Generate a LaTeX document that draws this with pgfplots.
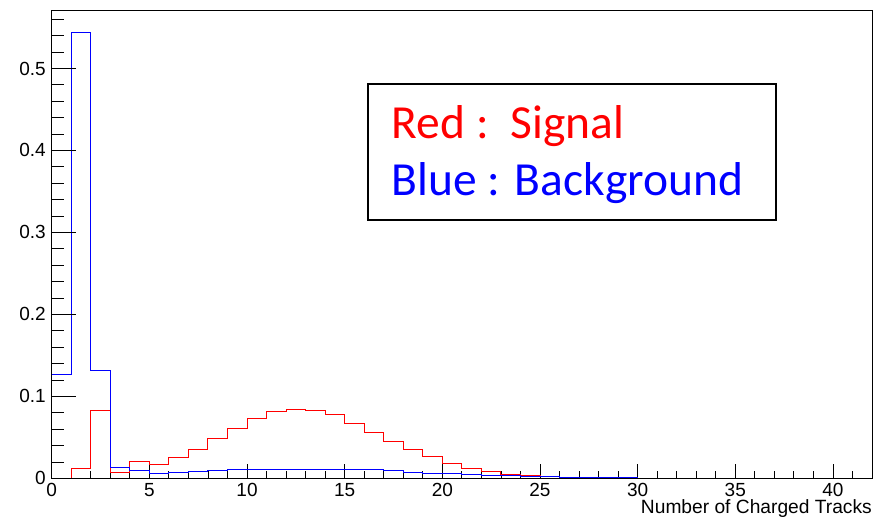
\documentclass[border=0pt]{standalone}
\usepackage{pgfplots}
\pgfplotsset{compat=1.18}
\usepackage{fontspec}
\setmainfont{Liberation Sans}
\newfontfamily\calibri{Carlito}
\definecolor{rootred}{RGB}{255,0,0}
\definecolor{rootblue}{RGB}{0,0,255}
\begin{document}
\begin{tikzpicture}
\useasboundingbox (0pt,0pt) rectangle (879pt,521pt);
\pgfplotsset{common/.style={
  scale only axis, width=820.3pt, height=468pt,
  at={(51.7pt,42.7pt)}, anchor=south west,
  xmin=0, xmax=42, ymin=0, ymax=0.571,
  axis line style={line width=0.9pt, black},
  tick pos=left, tick align=inside,
  tick style={line width=0.8pt, black},
  /pgf/number format/assume math mode=true,
  ticklabel style={font=\fontsize{19}{19}\selectfont},
}}
\begin{axis}[common,
  xtick={0,5,...,45}, minor x tick num=4, ytick=\empty,
  major tick length=14pt, minor tick length=7pt,
  xticklabel style={anchor=north, inner sep=0pt, yshift=-5pt},
  xlabel={Number of Charged Tracks},
  xlabel style={at={(rel axis cs:1,0)}, anchor=base east, inner sep=0pt,
    xshift=0pt, yshift=-35.5pt, font=\fontsize{19.2}{19.2}\selectfont},
]
\addplot[const plot, rootred, line width=0.9pt] coordinates {
(0,0)(1,0.0122)(2,0.0824)(3,0.0073)(4,0.0207)(5,0.0166)(6,0.0256)(7,0.0349)
(8,0.0488)(9,0.0610)(10,0.0732)(11,0.0812)(12,0.0841)(13,0.0833)(14,0.0776)
(15,0.0675)(16,0.0565)(17,0.0455)(18,0.0346)(19,0.0272)(20,0.0183)(21,0.0122)
(22,0.0085)(23,0.0049)(24,0.0037)(25,0.0024)(26,0.0010)(27,0.0009)(28,0.0008)
(29,0.0007)(30,0.0002)(31,0.0001)(32,0.0001)(33,0)(34,0)(35,0)(36,0)(37,0)
(38,0)(39,0)(40,0)(41,0)(42,0)};
\addplot[const plot, rootblue, line width=0.9pt] coordinates {
(0,0.1263)(1,0.5435)(2,0.1317)(3,0.0134)(4,0.0098)(5,0.0065)(6,0.0077)(7,0.0085)
(8,0.0093)(9,0.0102)(10,0.0102)(11,0.0110)(12,0.0110)(13,0.0110)(14,0.0110)
(15,0.0102)(16,0.0102)(17,0.0093)(18,0.0077)(19,0.0061)(20,0.0053)(21,0.0041)
(22,0.0037)(23,0.0033)(24,0.0028)(25,0.0020)(26,0.0012)(27,0.0012)(28,0.0010)
(29,0.0005)(30,0.0002)(31,0.0002)(32,0.0002)(33,0.0002)(34,0.0002)(35,0.0002)
(36,0.0002)(37,0.0002)};
\end{axis}
\begin{axis}[common,
  ytick={0,0.1,...,0.6}, minor y tick num=4, xtick=\empty,
  major tick length=24pt, minor tick length=12.5pt,
  yticklabel style={anchor=east, inner sep=0pt, xshift=-5.7pt},
]
\end{axis}
\draw[line width=1.8pt, black] (368.3pt,437pt) rectangle (775.7pt,301pt);
\node[anchor=base west, inner sep=0pt, text=rootred, font=\calibri\fontsize{47.5}{47.5}\selectfont]
  at (391.7pt,382pt) {Red :~~Signal};
\node[anchor=base west, inner sep=0pt, text=rootblue, font=\calibri\fontsize{47.5}{47.5}\selectfont]
  at (391.7pt,325.3pt) {Blue : Background};
\end{tikzpicture}
\end{document}
